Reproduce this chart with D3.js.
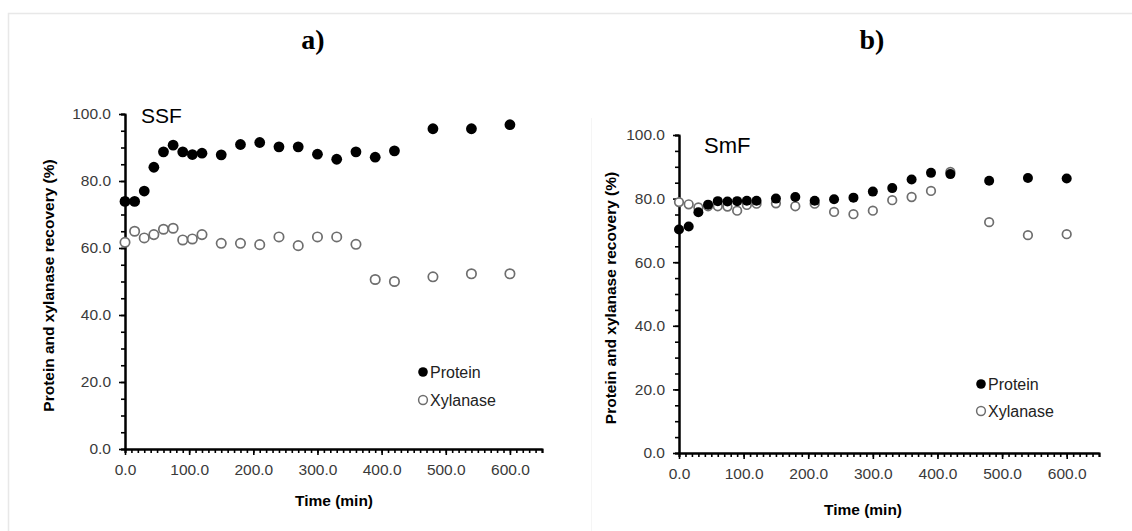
<!DOCTYPE html>
<html lang="en">
<head>
  <meta charset="UTF-8">
  <script src="https://d3js.org/d3.v7.min.js"></script>
  <title>Protein and xylanase recovery</title>
  <style>
    body { margin: 0; background: #fff; }
    svg text { font-family: "Liberation Sans", Arial, sans-serif; }
  </style>
</head>
<body>
  <svg width="1132" height="531"></svg>

  <script>
    // sampling times (min), shared by both panels
    const times = [0, 15, 30, 45, 60, 75, 90, 105, 120, 150, 180, 210, 240, 270, 300, 330, 360, 390, 420, 480, 540, 600]

    // a) SSF
    const ssfProtein = [73.9, 73.9, 77.0, 84.1, 88.7, 90.7, 88.7, 87.9, 88.3, 87.8, 90.9, 91.5, 90.2, 90.2, 88.0, 86.5, 88.7, 87.1, 89.0, 95.6, 95.6, 96.8]
    const ssfXylanase = [61.7, 65.0, 63.0, 64.0, 65.6, 65.9, 62.4, 62.7, 64.0, 61.4, 61.4, 61.0, 63.3, 60.7, 63.3, 63.3, 61.1, 50.6, 50.0, 51.4, 52.3, 52.3]

    // b) SmF
    const smfProtein = [70.3, 71.2, 75.7, 78.1, 79.2, 79.1, 79.2, 79.3, 79.3, 80.0, 80.5, 79.3, 79.8, 80.3, 82.2, 83.3, 86.0, 88.1, 87.7, 85.6, 86.5, 86.3]
    const smfXylanase = [78.9, 78.2, 77.2, 77.6, 77.6, 77.5, 76.2, 78.0, 78.4, 78.5, 77.6, 78.4, 75.8, 75.1, 76.2, 79.5, 80.5, 82.4, 88.4, 72.6, 68.5, 68.8]

    const xMajor = [0, 100, 200, 300, 400, 500, 600]
    const yMajor = [0, 20, 40, 60, 80, 100]
    const legendLabels = ['Protein', 'Xylanase']

    const svg = d3.select('svg')
    const fmt = d3.format('.1f')

    // faint frame of the original figure
    svg.append('path')
      .attr('d', 'M8.5,531 V13.5 H1132')
      .attr('fill', 'none')
      .attr('stroke', '#e8e8e8')
      .attr('stroke-width', 1.5)
    svg.append('line')
      .attr('x1', 591.5).attr('x2', 591.5).attr('y1', 118).attr('y2', 531)
      .attr('stroke', '#f5f5f5')

    const panels = [
      {
        letter: 'a)', letterX: 313, tag: 'SSF', tagX: 141, tagY: 123, tagSize: 21,
        x0: 125, x1: 542, y0: 449, y1: 114,
        protein: ssfProtein, xylanase: ssfXylanase, r: 5.4,
        yTitleX: 49, xTitleX: 334, xTitleY: 506,
        legendX: 423, legendY: 372, legendGap: 28
      },
      {
        letter: 'b)', letterX: 872, tag: 'SmF', tagX: 704, tagY: 153, tagSize: 22,
        x0: 679, x1: 1099, y0: 453, y1: 135,
        protein: smfProtein, xylanase: smfXylanase, r: 5,
        yTitleX: 611, xTitleX: 863, xTitleY: 515,
        legendX: 981, legendY: 384, legendGap: 27
      }
    ]

    panels.forEach(p => {
      const x = d3.scaleLinear().domain([0, 650]).range([p.x0, p.x1])
      const y = d3.scaleLinear().domain([0, 100]).range([p.y0, p.y1])
      const g = svg.append('g')

      // minor ticks
      g.append('g')
        .attr('transform', `translate(0,${p.y0})`)
        .call(d3.axisBottom(x).tickValues(d3.range(0, 651, 10)).tickSize(4).tickFormat(''))
      g.append('g')
        .attr('transform', `translate(${p.x0},0)`)
        .call(d3.axisLeft(y).tickValues(d3.range(0, 101, 5)).tickSize(4).tickFormat(''))

      // major ticks + labels
      g.append('g')
        .attr('transform', `translate(0,${p.y0})`)
        .call(d3.axisBottom(x).tickValues(xMajor).tickSize(6).tickSizeOuter(0).tickPadding(9).tickFormat(fmt))
      g.append('g')
        .attr('transform', `translate(${p.x0},0)`)
        .call(d3.axisLeft(y).tickValues(yMajor).tickSize(6).tickSizeOuter(0).tickPadding(8).tickFormat(fmt))

      g.selectAll('.domain').attr('stroke', '#000').attr('stroke-width', 2)
      g.selectAll('.tick line').attr('stroke', '#000').attr('stroke-width', 1.6)
      g.selectAll('.tick text')
        .attr('font-size', 15.5)
        .attr('fill', '#3a3a3a')
        .attr('font-family', '"Liberation Sans", Arial, sans-serif')

      // titles
      svg.append('text')
        .attr('x', p.letterX).attr('y', 49)
        .attr('text-anchor', 'middle')
        .style('font-family', '"Liberation Serif", "Times New Roman", serif')
        .attr('font-weight', 'bold').attr('font-size', 28)
        .text(p.letter)

      svg.append('text')
        .attr('x', p.tagX).attr('y', p.tagY)
        .attr('font-size', p.tagSize)
        .text(p.tag)

      svg.append('text')
        .attr('x', p.xTitleX).attr('y', p.xTitleY)
        .attr('text-anchor', 'middle')
        .attr('font-weight', 'bold').attr('font-size', 15.5)
        .text('Time (min)')

      svg.append('text')
        .attr('transform', `translate(${p.yTitleX + 5},${(p.y0 + p.y1) / 2 + 4}) rotate(-90)`)
        .attr('text-anchor', 'middle')
        .attr('font-weight', 'bold').attr('font-size', 15.5)
        .text('Protein and xylanase recovery (%)')

      // points
      g.selectAll('.xyl')
        .data(times.map((t, i) => [t, p.xylanase[i]]))
        .join('circle')
        .attr('cx', d => x(d[0])).attr('cy', d => y(d[1]))
        .attr('r', p.r - 0.7)
        .attr('fill', '#fff').attr('stroke', '#6e6e6e').attr('stroke-width', 1.7)

      g.selectAll('.prot')
        .data(times.map((t, i) => [t, p.protein[i]]))
        .join('circle')
        .attr('cx', d => x(d[0])).attr('cy', d => y(d[1]))
        .attr('r', p.r)
        .attr('fill', '#000')

      // legend
      const lg = svg.append('g').attr('transform', `translate(${p.legendX},${p.legendY})`)
      lg.append('circle').attr('cx', 0).attr('cy', 0).attr('r', 4.8).attr('fill', '#000')
      lg.append('circle').attr('cx', 0).attr('cy', p.legendGap).attr('r', 4.4)
        .attr('fill', '#fff').attr('stroke', '#6e6e6e').attr('stroke-width', 1.5)
      lg.selectAll('text')
        .data(legendLabels)
        .join('text')
        .attr('x', 7).attr('y', (d, i) => i * p.legendGap + 6)
        .attr('font-size', 16)
        .attr('fill', '#222')
        .text(d => d)
    })
  </script>
</body>
</html>
